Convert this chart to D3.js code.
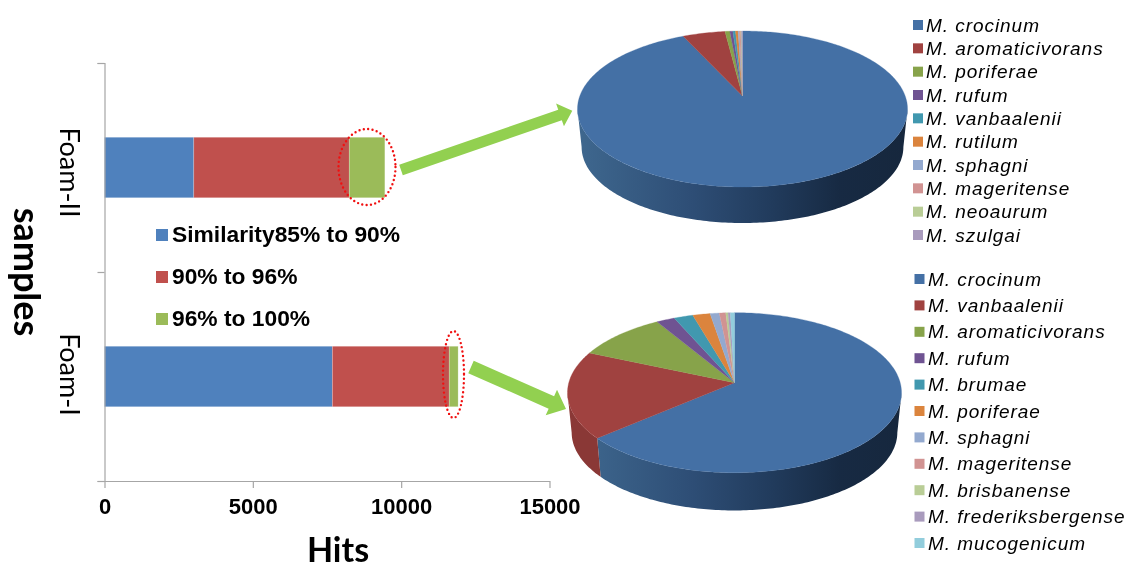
<!DOCTYPE html>
<html><head><meta charset="utf-8">
<script src="https://cdn.jsdelivr.net/npm/d3@7"></script>
<style>
html,body{margin:0;padding:0;background:#fff}
svg{display:block;filter:blur(0.45px)}
</style></head><body><svg id="c" width="1127" height="569"></svg>
<script>
// ---- data ----
const samples = ["Foam-II", "Foam-I"];
const similarityLabels = ["Similarity85% to 90%", "90% to 96%", "96% to 100%"];
const hits85to90  = [3010, 7680];
const hits90to96  = [5240, 3940];
const hits96to100 = [1200, 300];
const xTicks = [0, 5000, 10000, 15000];

const foam2Species = ["M. crocinum","M. aromaticivorans","M. poriferae","M. rufum","M. vanbaalenii","M. rutilum","M. sphagni","M. mageritense","M. neoaurum","M. szulgai"];
const foam2Share   = [93.1, 4.9, 0.55, 0.35, 0.3, 0.3, 0.15, 0.15, 0.08, 0.12];
const foam1Species = ["M. crocinum","M. vanbaalenii","M. aromaticivorans","M. rufum","M. brumae","M. poriferae","M. sphagni","M. mageritense","M. brisbanense","M. frederiksbergense","M. mucogenicum"];
const foam1Share   = [63.75, 17.7, 9.86, 2.0, 2.1, 1.9, 1.0, 0.7, 0.25, 0.25, 0.45];

// ---- styles ----
const barColors = ["#4f81bd", "#c0504d", "#9bbb59"];
const pieColors = ["#4470a5","#a04240","#87a34a","#6f5392","#4198af","#db843d","#93a9cf","#d19392","#b9cd96","#a99bbd","#92cddc"];
const wallColors = {0:"url(#wallBlue)", 1:"#8a3836"};
const bold = "'Liberation Sans',Arial,sans-serif";
const humanist = "Lato,'Open Sans',sans-serif";

const svg = d3.select("#c");
const defs = svg.append("defs");
const grad = defs.append("linearGradient").attr("id","wallBlue")
  .attr("gradientUnits","userSpaceOnUse").attr("x1",575).attr("x2",905).attr("y1",0).attr("y2",0);
[[0,"#3f688f"],[0.35,"#2e4e76"],[0.6,"#213b5c"],[0.8,"#172a43"],[1,"#16273d"]]
  .forEach(([o,c])=>grad.append("stop").attr("offset",o).attr("stop-color",c));

// ---- stacked bars ----
const x = d3.scaleLinear().domain([0,15000]).range([104.5,549.5]);
const y = d3.scaleBand().domain(samples).range([63,481]);
const yEdges = d3.scaleLinear().domain([0,samples.length]).range([63,481]);
const barH = 60.5;

const stackInput = samples.map((s,i)=>({s, a:hits85to90[i], b:hits90to96[i], c:hits96to100[i]}));
const stacked = d3.stack().keys(["a","b","c"])(stackInput);
svg.append("g").selectAll("g").data(stacked).join("g")
  .attr("fill",(d,i)=>barColors[i])
  .selectAll("rect").data(d=>d).join("rect")
  .attr("x",d=>x(d[0])).attr("width",d=>x(d[1])-x(d[0]))
  .attr("y",d=>y(d.data.s)+y.bandwidth()/2-barH/2).attr("height",barH)
  .attr("stroke","#fff").attr("stroke-opacity",0.3).attr("stroke-width",0.7);

// axes
const axisColor = "#a6a6a6";
const gx = svg.append("g").attr("transform","translate(0,481)")
  .call(d3.axisBottom(x).tickValues(xTicks).tickFormat(d=>d).tickSize(7).tickSizeOuter(0));
gx.select(".domain").attr("stroke",axisColor).attr("stroke-width",1.2);
gx.selectAll("line").attr("stroke",axisColor).attr("stroke-width",1.2);
gx.selectAll("text").attr("font-family",bold).attr("font-weight","bold").attr("font-size",22)
  .attr("fill","#000").attr("y",18).attr("dy","0.68em");
const gy = svg.append("g").attr("transform","translate(104.5,0)")
  .call(d3.axisLeft(yEdges).ticks(samples.length).tickFormat("").tickSize(7).tickSizeOuter(7));
gy.select(".domain").attr("stroke",axisColor).attr("stroke-width",1.2);
gy.selectAll("line").attr("stroke",axisColor).attr("stroke-width",1.2);

// category labels (rotated clockwise)
samples.forEach(s=>{
  svg.append("text").text(s)
    .attr("transform",`translate(60,${y(s)+y.bandwidth()/2+(s==="Foam-II"?5:-2)}) rotate(90)`)
    .attr("text-anchor","middle").attr("font-family",humanist).attr("font-size",27).attr("fill","#000");
});
svg.append("text").text("samples")
  .attr("transform","translate(14,272) rotate(90)")
  .attr("text-anchor","middle").attr("font-family",humanist).attr("font-weight","bold").attr("font-size",36).attr("fill","#000");
svg.append("text").text("Hits")
  .attr("x",338).attr("y",562)
  .attr("text-anchor","middle").attr("font-family",humanist).attr("font-weight","bold").attr("font-size",34).attr("fill","#000");

// similarity legend
const legRows = d3.scalePoint().domain(similarityLabels).range([235,319]);
similarityLabels.forEach((t,i)=>{
  svg.append("rect").attr("x",156).attr("y",legRows(t)-6).attr("width",12).attr("height",12).attr("fill",barColors[i]);
  svg.append("text").text(t).attr("x",172).attr("y",legRows(t)+7)
    .attr("font-family",bold).attr("font-weight","bold").attr("font-size",22.8).attr("fill","#000");
});

// ---- perspective pies ----
function drawPie(cfg, names, values){
  const g = svg.append("g");
  const proj = a => {
    const u = Math.sin(a), v = -Math.cos(a), w = 1 - cfg.p*v;
    return [cfg.cx + cfg.Rx*u/w, cfg.ay + cfg.Ry*v/w];
  };
  const lower = a => {
    const [X,Y] = proj(a);
    return [cfg.cx + (X-cfg.cx)*cfg.s, cfg.ay + (Y-cfg.ay)*cfg.s + cfg.d];
  };
  const h = cfg.yc - cfg.ay;
  const aR = Math.PI/2 + Math.asin(h/(cfg.Ry + cfg.p*h));
  const aL = 2*Math.PI - aR;
  const arcs = d3.pie().sort(null).value(d=>d)(values);
  const line = d3.line();
  const samplesOf = (a0,a1) => d3.range(0,1.0001,1/Math.max(2,Math.ceil((a1-a0)*60))).map(t=>a0+(a1-a0)*t);
  // walls
  arcs.forEach((d,i)=>{
    const a0 = Math.max(d.startAngle,aR), a1 = Math.min(d.endAngle,aL);
    if(a1<=a0) return;
    const as = samplesOf(a0,a1);
    g.append("path").attr("d", line([...as.map(proj), ...as.slice().reverse().map(lower)])+"Z")
      .attr("fill", wallColors[i] || pieColors[i]);
  });
  // top faces
  arcs.forEach((d,i)=>{
    g.append("path").attr("d", line([[cfg.cx,cfg.ay], ...samplesOf(d.startAngle,d.endAngle).map(proj)])+"Z")
      .attr("fill", pieColors[i]).attr("stroke",pieColors[i]).attr("stroke-width",0.3);
  });
  // legend
  const rows = d3.scalePoint().domain(names).range(cfg.legendRange);
  names.forEach((n,i)=>{
    svg.append("rect").attr("x",cfg.legX).attr("y",rows(n)-5).attr("width",10).attr("height",10).attr("fill",pieColors[i]);
    svg.append("text").text(n).attr("x",cfg.legX+cfg.gap).attr("y",rows(n)+6.5)
      .attr("font-family",bold).attr("font-style","italic").attr("font-size",19)
      .attr("letter-spacing",cfg.ls).attr("fill","#000");
  });
}
drawPie({cx:742.5,ay:96,yc:109,Rx:162.7,Ry:75.83,p:1/6,s:0.975,d:38.3,legX:913,gap:13,legendRange:[25,235],ls:"0.95px"}, foam2Species, foam2Share);
drawPie({cx:734.5,ay:382.7,yc:393,Rx:165.7,Ry:78.75,p:0.125,s:0.975,d:40,legX:914.5,gap:13.5,legendRange:[279,543],ls:"0.95px"}, foam1Species, foam1Share);

// ---- red dotted ellipses ----
[[367,167,28.5,38],[453.5,374.5,10.5,43.5]].forEach(([cx,cy,rx,ry])=>{
  svg.append("ellipse").attr("cx",cx).attr("cy",cy).attr("rx",rx).attr("ry",ry)
    .attr("fill","none").attr("stroke","#f01010").attr("stroke-width",2.4)
    .attr("stroke-linecap","round").attr("stroke-dasharray","0 4.4");
});

// ---- green arrows ----
function arrow(x0,y0,x1,y1,shaft,head,headLen){
  const L = Math.hypot(x1-x0,y1-y0), ux=(x1-x0)/L, uy=(y1-y0)/L, nx=-uy, ny=ux;
  const bx=x1-ux*headLen, by=y1-uy*headLen;
  const pts=[[x0+nx*shaft/2,y0+ny*shaft/2],[bx+nx*shaft/2,by+ny*shaft/2],[bx+nx*head/2,by+ny*head/2],[x1,y1],
             [bx-nx*head/2,by-ny*head/2],[bx-nx*shaft/2,by-ny*shaft/2],[x0-nx*shaft/2,y0-ny*shaft/2]];
  svg.append("path").attr("d",d3.line()(pts)+"Z").attr("fill","#92d050");
}
arrow(401,170,572.3,110.7,11,24,13);
arrow(471,367,566,409,13.5,28,16);
</script></body></html>
